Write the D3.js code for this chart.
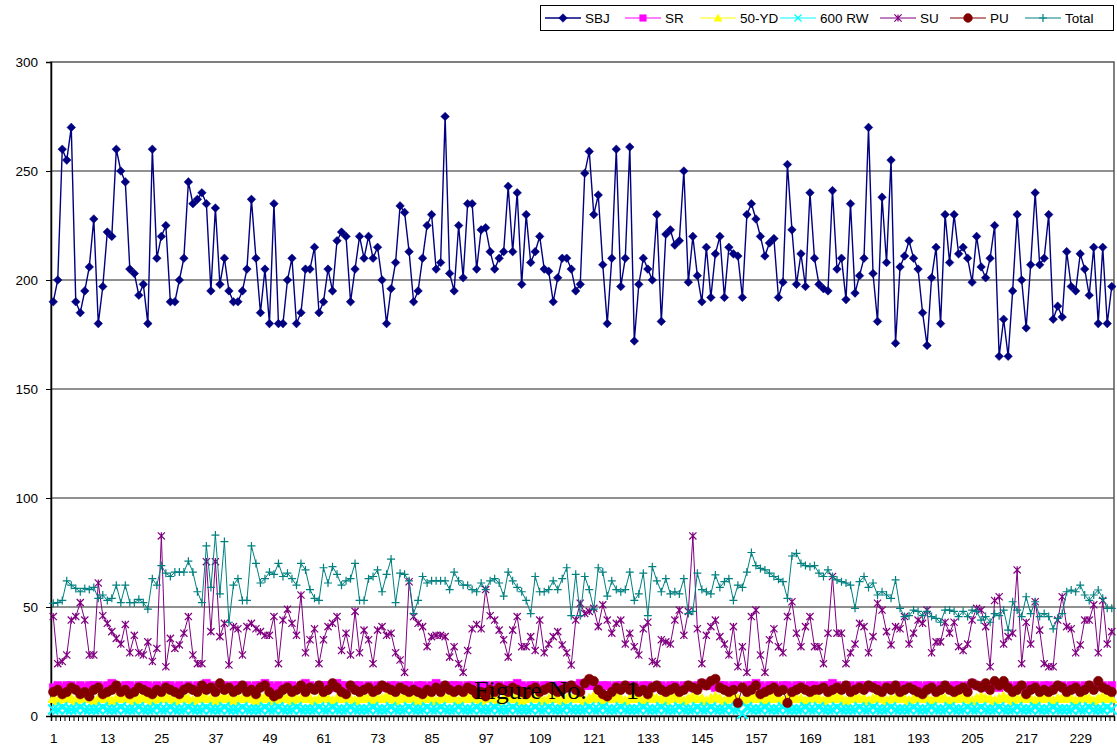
<!DOCTYPE html>
<html>
<head>
<meta charset="utf-8">
<script src="https://cdn.jsdelivr.net/npm/d3@7"></script>
<style>
body{margin:0;background:#fff}
svg{display:block;font-family:"Liberation Sans",Arial,sans-serif}
</style>
</head>
<body>
<div id="chart"></div>
<script>
const categories=d3.range(1,237)
const tickLabels=[1,13,25,37,49,61,73,85,97,109,121,133,145,157,169,181,193,205,217,229]
const yTicks=[0,50,100,150,200,250,300]

const sbj=[190,200,260,255,270,190,185,195,206,228,
180,197,222,220,260,250,245,205,203,193,
198,180,260,210,220,225,190,190,200,210,
245,235,237,240,235,195,233,198,210,195,
190,190,195,205,237,210,185,205,180,235,
180,180,200,210,180,185,205,205,215,185,
190,205,195,218,222,220,190,205,220,210,
220,210,215,200,180,196,208,234,231,213,
190,195,210,225,230,205,208,275,203,195,
225,201,235,235,205,223,224,213,205,210,
213,243,213,240,198,230,208,213,220,205,
204,190,201,210,210,205,195,198,249,259,
230,239,207,180,210,260,197,210,261,172,
198,210,205,200,230,181,221,223,216,218,
250,199,220,202,190,215,192,212,220,192,
215,212,211,192,230,235,228,220,211,217,
219,192,199,253,223,198,212,197,240,210,
198,196,195,241,205,210,191,235,194,202,
210,270,203,181,238,208,255,171,206,211,
218,210,205,185,170,201,215,180,230,208,
230,212,215,210,199,220,206,201,210,225,
165,182,165,195,230,200,178,207,240,207,
210,230,182,188,183,213,197,195,212,205,
193,215,180,215,180,197]

const sr=[13,14,13,14,14,13,14,13,14,14,
14,13,14,15,14,13,14,14,13,14,
14,14,13,14,13,14,14,13,14,13,
14,13,14,14,15,14,13,14,14,13,
14,14,13,14,13,14,14,15,14,13,
14,13,14,14,13,14,15,14,13,14,
14,14,13,15,14,14,13,14,14,13,
14,13,14,14,13,14,14,13,14,14,
13,14,14,13,14,15,14,13,14,14,
14,13,14,14,13,14,14,13,14,14,
13,14,14,15,14,13,14,14,13,14,
14,13,14,14,13,14,14,15,14,14,
14,13,14,14,13,14,14,13,14,14,
13,14,14,13,14,14,13,14,14,13,
14,14,13,14,15,14,14,13,14,14,
13,14,14,13,14,14,15,14,13,14,
14,13,14,14,13,14,14,13,14,14,
13,14,14,15,14,13,14,14,13,14,
14,13,14,14,13,14,14,13,14,14,
13,14,14,13,14,14,13,14,14,13,
14,14,13,14,15,14,14,13,14,14,
13,14,14,13,14,14,13,14,14,13,
14,14,13,14,14,13,14,14,13,14,
14,13,14,14,13,14]

const yd50=[8,7,8,9,8,7,8,8,9,7,
8,9,8,7,8,8,9,8,7,8,
9,8,7,8,8,9,8,7,8,9,
8,7,8,9,8,8,7,8,9,8,
7,8,8,9,8,7,8,9,8,7,
8,9,8,7,8,8,9,8,7,8,
9,8,7,8,9,8,8,7,8,9,
8,7,8,8,9,8,7,8,9,8,
8,7,8,9,8,7,8,8,9,8,
7,8,9,8,8,7,8,9,8,7,
8,8,9,8,7,8,9,8,8,7,
8,9,8,7,8,8,9,8,7,8,
9,8,7,8,8,9,8,7,8,9,
8,7,8,9,8,8,7,8,9,8,
7,8,9,8,8,7,8,9,8,7,
8,9,8,7,8,8,9,8,7,8,
9,8,7,8,9,8,8,7,8,9,
8,7,8,8,9,8,7,8,9,8,
8,7,8,9,8,7,8,8,9,8,
7,8,9,8,8,7,8,9,8,7,
8,8,9,8,7,8,9,8,8,7,
8,9,8,7,8,8,9,8,7,8,
9,8,7,8,8,9,8,7,8,9,
8,7,8,9,8,8]

const rw600=[3,3,4,3,3,3,4,3,3,3,
3,4,3,3,3,4,3,3,3,4,
3,3,3,4,3,3,4,3,3,3,
4,3,3,3,4,3,3,3,4,3,
3,3,4,3,3,3,3,4,3,3,
4,3,3,3,4,3,3,3,3,4,
3,3,4,3,3,3,4,3,3,3,
3,4,3,3,3,4,3,3,3,4,
3,3,3,4,3,3,4,3,3,3,
4,3,3,3,4,3,3,3,4,3,
3,3,4,3,3,3,3,4,3,3,
4,3,3,3,4,3,3,3,3,4,
3,3,4,3,3,3,4,3,3,3,
3,4,3,3,3,4,3,3,3,4,
3,3,3,4,3,3,4,3,3,3,
4,3,3,1,4,3,3,3,4,3,
3,3,4,3,3,3,3,4,3,3,
4,3,3,3,4,3,3,3,3,4,
3,3,4,3,3,3,4,3,3,3,
3,4,3,3,3,4,3,3,3,4,
3,3,3,4,3,3,4,3,3,3,
4,3,3,3,4,3,3,3,4,3,
3,3,4,3,3,3,3,4,3,3,
4,3,3,3,4,3]

const su=[45.6,24,25,28,44,45.6,52,44,28,28,
61,46,42.5,38.7,35.6,33,42,29,37,29,
28,34,25,31,82.6,22.6,35.6,31,32.6,38,
45.6,28,24,24,70.8,38.7,70.8,36.4,42.5,23.4,
41,40,28,41,42.5,40,38.7,37,37,45.6,
24,44,49,42.5,37,55.5,29,35,40,24,
35,41,42.5,45.6,30,38,28,48,29,39.4,
35,24,39.4,41,37,38,29,25.7,20,61.6,
45.6,42.5,41,31.8,36.4,37,37,36.4,27,31.8,
24,20,30,40,42,40,58,46,44,39.4,
35,27,39.4,45.6,31.8,31.8,36.4,30,44,29,
33,36.4,38.7,32.6,29,23.4,44,51.7,47,48,
49.4,41,51,44,38,42.5,44,33,38,31.8,
28,40,43,25,24,35,34,33,44,48.6,
37,48,82.6,40,24,37,41,44,36.4,33,
28,41,22.6,31.8,20,45.6,48.6,28,20,35,
40,31.8,29,45.6,52.4,38,31.8,41,45.6,31.8,
31.8,24,38,64,38,38,24,29,33,42.5,
41,29,36.4,51.7,48.6,38.7,32.6,41,40,45.6,
33,38,44,42.5,48.6,29,34,34,43,38,
43,31.8,30,33,44,49.4,48.6,41,22.6,53,
54.7,33,36.4,38,67,24,43,33,52.4,39.4,
24,22.6,22.6,44,54.7,41,40,29,32.6,44,
44,51,29,53,33,38.7]

const pu=[11,12,10,11,13,12,10,11,9,12,
13,10,11,12,14,11,12,10,11,13,
12,11,10,12,11,13,12,11,10,12,
13,12,11,14,12,13,11,15,12,13,
11,12,14,11,12,10,13,14,11,9,
10,12,13,11,12,14,11,13,12,14,
11,12,15,13,11,10,14,12,11,12,
13,11,12,14,13,12,11,13,12,11,
12,11,10,12,11,13,11,14,12,11,
12,11,13,12,10,11,9,12,11,13,
12,11,13,12,11,10,12,13,11,12,
13,12,11,12,13,14,12,11,15,17,
16,12,10,9,11,13,12,14,12,13,
11,12,10,13,14,12,11,12,13,11,
12,14,13,12,15,14,16,17,13,12,
11,12,6,13,11,12,14,10,11,12,
13,11,12,6,11,12,13,12,11,12,
12,13,11,12,13,12,14,11,12,13,
12,14,13,12,11,13,12,14,11,12,
13,12,11,10,12,13,11,12,14,12,
11,12,13,11,15,14,13,15,12,16,
14,16,13,11,12,14,10,12,13,11,
12,11,12,14,13,11,12,13,11,12,
14,12,16,13,12,11]

const total=[51.7,52,53,62,60,58.5,57,58.5,58,59,
54,55.5,53,54,60,52,60,52,52,53.5,
52,49,63,60,69,65.5,64,66,66,66,
71,66,57,52,78,59,83,56,80,43,
60,63,53,53,78,70,61,63,66,65,
70,64,65.5,63,60,70,67,58,54,53,
68,61,68.5,65,60,62,63,70,53,53,
63,64,67,57,65,72,52,65.5,65,62,
47,53,64,61,62,62,62,62,58,66,
62,60,60,58,57,61,58,62,63,61,
55,66,62,59,57,53,47,64,57,57,
58,62,58,63,68,46,65,46,64,58,
49,68,66,55,62,58,57,58,66,53,
56,65.5,46,68.5,62,57,63,56,57,56,
63,47,48,65.5,58,57,56,64.7,59,61.6,
63,53,60,59,66,75,69,67.7,67,65.5,
64,62.7,61.6,54,73.4,74.6,70,69,68.5,69,
65.5,64,67,64,62.4,61.6,61,60,49.4,61.6,
64,59,61,55.5,57,55.5,54,62.4,49.4,45.6,
46,48.6,48,46,48,45.6,44.8,43,48.6,48.6,
48,45.6,48,45.6,48.6,48,44,45.6,43,47,
46,48.6,39.4,52.4,48.6,45.6,54.7,47,52.4,45.6,
47,45.6,40,44.8,47,57,57.8,57,60,55.5,
53,55.5,57.8,54,49.4,49.4]

const seriesNames=["SBJ","SR","50-YD","600 RW","SU","PU","Total"]
const seriesValues=[sbj,sr,yd50,rw600,su,pu,total]
const seriesStyle=[
{color:"#000080",shape:"diamond",r:4.3,lw:1.4,mw:0.5},
{color:"#ff00ff",shape:"square",r:4,lw:1,mw:0.5},
{color:"#ffff00",shape:"triangle",r:5,lw:1,mw:1},
{color:"#00ffff",shape:"x",r:5,lw:1,mw:2.2},
{color:"#800080",shape:"star",r:3.6,lw:1,mw:1.2},
{color:"#800000",shape:"circle",r:4.8,lw:1,mw:0.5},
{color:"#008080",shape:"plus",r:4,lw:1,mw:1.2}
]
const legR=[4.3,3.3,4,3.5,3.6,4.4,4]

const W=1117,H=749
const plotL=51,plotR=1114,plotT=62,plotB=716

const svg=d3.select("#chart").append("svg")
.attr("width",W).attr("height",H)

const x=d3.scaleLinear().domain([0.5,categories.length+0.5]).range([plotL,plotR])
const y=d3.scaleLinear().domain([0,300]).range([plotB,plotT])

function markerPath(shape,r){
if(shape=="diamond") return "M0,"+(-r)+"L"+r+",0L0,"+r+"L"+(-r)+",0Z"
if(shape=="square") return "M"+(-r)+","+(-r)+"h"+(2*r)+"v"+(2*r)+"h"+(-2*r)+"Z"
if(shape=="triangle") return "M0,"+(-r)+"L"+r+","+(r*0.8)+"L"+(-r)+","+(r*0.8)+"Z"
if(shape=="x") return "M"+(-r)+","+(-r)+"L"+r+","+r+"M"+r+","+(-r)+"L"+(-r)+","+r
if(shape=="star") return "M"+(-r)+","+(-r)+"L"+r+","+r+"M"+r+","+(-r)+"L"+(-r)+","+r+"M0,"+(-r)+"V"+r
if(shape=="plus") return "M"+(-r)+",0H"+r+"M0,"+(-r)+"V"+r
return d3.symbol(d3.symbolCircle,Math.PI*r*r)()
}
const filled={diamond:1,square:1,triangle:1,circle:1}

// gridlines
svg.append("g")
.selectAll("line")
.data(yTicks.filter(d=>d>0&&d<300))
.enter().append("line")
.attr("x1",plotL).attr("x2",plotR)
.attr("y1",d=>y(d)).attr("y2",d=>y(d))
.attr("stroke","#222").attr("stroke-width",1.2)

svg.append("rect")
.attr("x",plotL).attr("y",plotT)
.attr("width",plotR-plotL).attr("height",plotB-plotT)
.attr("fill","none").attr("stroke","#555").attr("stroke-width",1.5)

// axes
const yAxis=svg.append("g")
.attr("transform","translate("+plotL+",0)")
.call(d3.axisLeft(y).tickValues(yTicks).tickSize(5).tickPadding(8))
yAxis.selectAll("text").attr("font-size",13.5).attr("fill","#000").attr("font-family","Liberation Sans, Arial")
yAxis.select(".domain").attr("stroke","#000").attr("stroke-width",1.5)

const xTicks=svg.append("g")
.attr("transform","translate(0,"+plotB+")")
.call(d3.axisBottom(x).tickValues(d3.range(0.5,categories.length+1,1)).tickSize(5).tickFormat(""))
xTicks.select(".domain").attr("stroke","#000").attr("stroke-width",1.5)

const xLabels=svg.append("g")
.attr("transform","translate(0,"+plotB+")")
.call(d3.axisBottom(x).tickValues(tickLabels).tickSize(0).tickPadding(17).tickFormat(d3.format("d")))
xLabels.select(".domain").remove()
xLabels.selectAll("text").attr("font-size",13.5).attr("fill","#000").attr("font-family","Liberation Sans, Arial")

// series
const line=d3.line().x((d,i)=>x(categories[i])).y(d=>y(d))

seriesValues.forEach((vals,k)=>{
const st=seriesStyle[k]
const g=svg.append("g")
g.append("path")
.datum(vals)
.attr("d",line)
.attr("fill","none")
.attr("stroke",st.color)
.attr("stroke-width",st.lw)
g.selectAll(".m")
.data(vals)
.enter().append("path")
.attr("transform",(d,i)=>"translate("+x(categories[i])+","+y(d)+")")
.attr("d",markerPath(st.shape,st.r))
.attr("fill",filled[st.shape]?st.color:"none")
.attr("stroke",st.color)
.attr("stroke-width",st.mw)
})

const fig=svg.append("text")
.attr("y",699)
.attr("font-family","Liberation Serif, Times New Roman, serif")
.attr("font-size",26)
.attr("fill","#000")
fig.append("tspan").attr("x",474).text("Figure No.")
fig.append("tspan").attr("x",626).text("1")

// legend
const legend=svg.append("g")
legend.append("rect")
.attr("x",540.5).attr("y",5.5).attr("width",573).attr("height",25)
.attr("fill","#fff").attr("stroke","#000")
const legX=[545,625,700,780,880,950,1025]
seriesNames.forEach((name,k)=>{
const st=seriesStyle[k]
const g=legend.append("g").attr("transform","translate("+legX[k]+",18)")
g.append("line").attr("x1",0).attr("x2",36).attr("stroke",st.color).attr("stroke-width",st.lw)
g.append("path")
.attr("transform","translate(18,0)")
.attr("d",markerPath(st.shape,legR[k]))
.attr("fill",filled[st.shape]?st.color:"none")
.attr("stroke",st.color)
.attr("stroke-width",filled[st.shape]?0.5:1.2)
g.append("text")
.attr("x",40).attr("y",5)
.attr("font-size",13.5)
.attr("fill","#000")
.text(name)
})
</script>
</body>
</html>
